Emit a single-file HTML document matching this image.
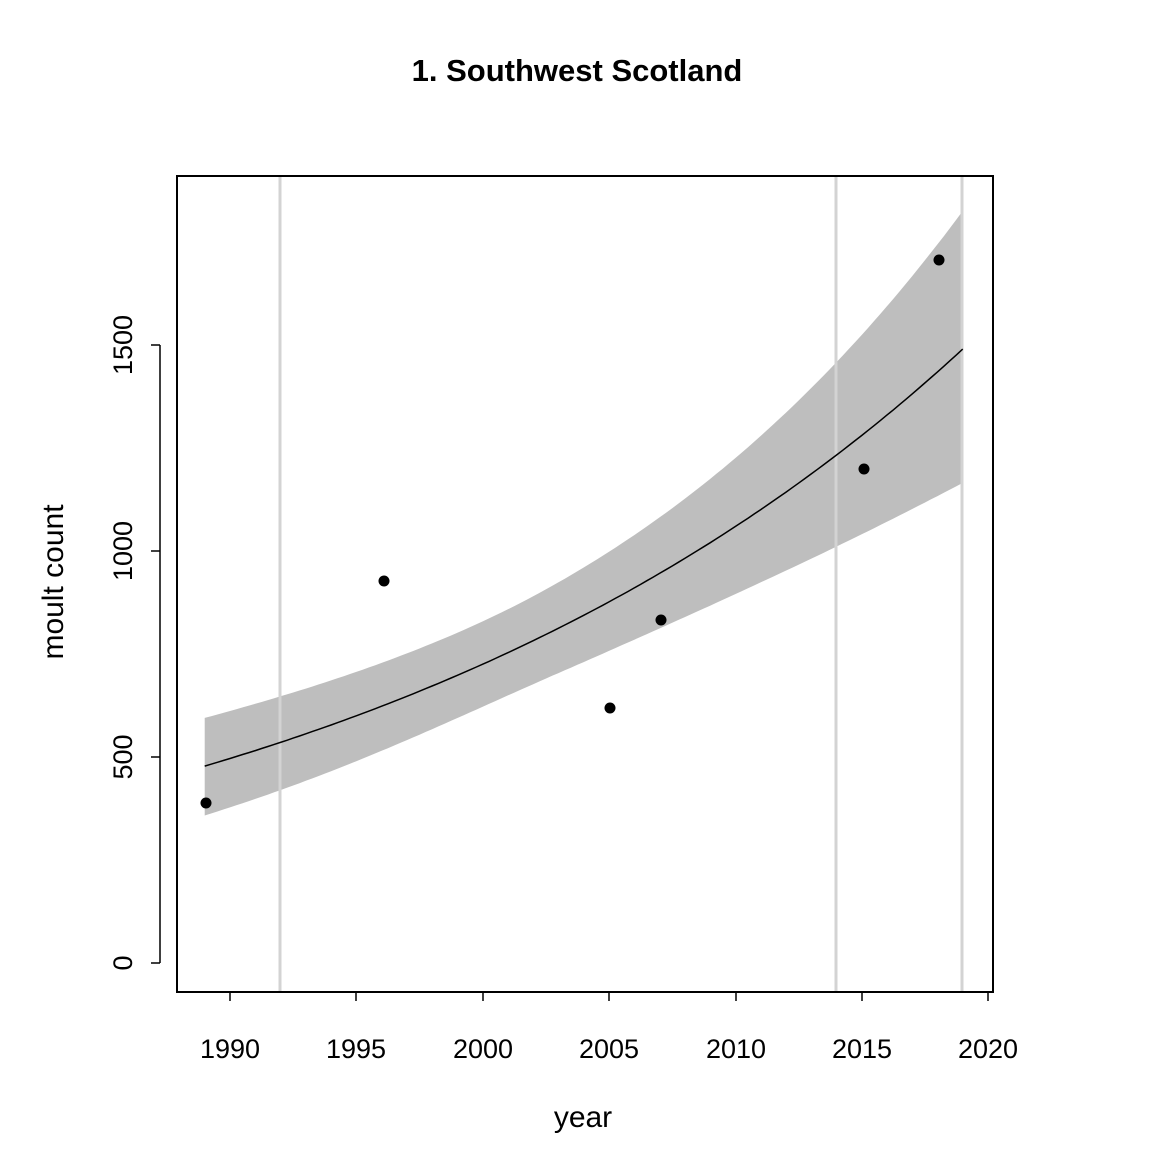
<!DOCTYPE html>
<html><head><meta charset="utf-8"><style>
html,body{margin:0;padding:0;background:#fff;}
svg{display:block;font-family:"Liberation Sans",Arial,sans-serif;}
</style></head><body>
<svg id="s" width="1170" height="1170" viewBox="0 0 1170 1170" xmlns="http://www.w3.org/2000/svg">
<rect width="1170" height="1170" fill="#fff"/>
<text x="577" y="81" text-anchor="middle" font-size="31" font-weight="bold">1. Southwest Scotland</text>
<path id="band" fill="#bebebe" d=""/>
<line x1="280" y1="176" x2="280" y2="992" stroke="#d3d3d3" stroke-width="3"/>
<line x1="836" y1="176" x2="836" y2="992" stroke="#d3d3d3" stroke-width="3"/>
<line x1="962" y1="176" x2="962" y2="992" stroke="#d3d3d3" stroke-width="3"/>
<path id="fit" fill="none" stroke="#000" stroke-width="1.5" d=""/>
<g fill="#000">
<circle cx="206" cy="803" r="5.5"/><circle cx="384" cy="581" r="5.5"/><circle cx="610" cy="708" r="5.5"/>
<circle cx="661" cy="620" r="5.5"/><circle cx="864" cy="469" r="5.5"/><circle cx="939" cy="260" r="5.5"/>
</g>
<rect x="177" y="176" width="816" height="816" fill="none" stroke="#000" stroke-width="2"/>
<g stroke="#000" stroke-width="1.5">
<line x1="230" y1="992" x2="988" y2="992"/>
<line x1="230" y1="992" x2="230" y2="1001"/><line x1="356" y1="992" x2="356" y2="1001"/>
<line x1="483" y1="992" x2="483" y2="1001"/><line x1="609" y1="992" x2="609" y2="1001"/>
<line x1="736" y1="992" x2="736" y2="1001"/><line x1="862" y1="992" x2="862" y2="1001"/>
<line x1="988" y1="992" x2="988" y2="1001"/>
<line x1="160" y1="345" x2="160" y2="963"/>
<line x1="151" y1="963" x2="160" y2="963"/><line x1="151" y1="757" x2="160" y2="757"/>
<line x1="151" y1="551" x2="160" y2="551"/><line x1="151" y1="345" x2="160" y2="345"/>
</g>
<g font-size="27" text-anchor="middle">
<text x="230" y="1058">1990</text><text x="356" y="1058">1995</text><text x="483" y="1058">2000</text>
<text x="609" y="1058">2005</text><text x="736" y="1058">2010</text><text x="862" y="1058">2015</text>
<text x="988" y="1058">2020</text>
<text transform="translate(132,963) rotate(-90)">0</text>
<text transform="translate(132,757) rotate(-90)">500</text>
<text transform="translate(132,551) rotate(-90)">1000</text>
<text transform="translate(132,345) rotate(-90)">1500</text>
<text x="583" y="1127" font-size="30">year</text>
<text transform="translate(63,582) rotate(-90)" font-size="30">moult count</text>
</g>
</svg>
<script>
(function(){
function X(t){return 230+(t-1990)*758/30;}
function Y(v){return 963-v*0.412;}
var k=Math.log(1490/478)/30,up=[],lo=[],f=[];
for(var t=1989;t<=2019.001;t+=0.25){
 var fit=478*Math.exp(k*(t-1989));
 var d=(t-2003)*(t-2003);
 var u=Math.sqrt(0.0165+(t<2003?0.00016:0.0000965)*d);
 var l=Math.sqrt(0.0207+(t<2003?0.00032:0.000155)*d);
 f.push(X(t).toFixed(1)+","+Y(fit).toFixed(1));
 up.push(X(t).toFixed(1)+","+Y(fit*Math.exp(u)).toFixed(1));
 lo.push(X(t).toFixed(1)+","+Y(fit*Math.exp(-l)).toFixed(1));
}
document.getElementById('fit').setAttribute('d','M'+f.join(' L'));
document.getElementById('band').setAttribute('d','M'+up.join(' L')+' L'+lo.reverse().join(' L')+' Z');
})();
</script>
</body></html>
